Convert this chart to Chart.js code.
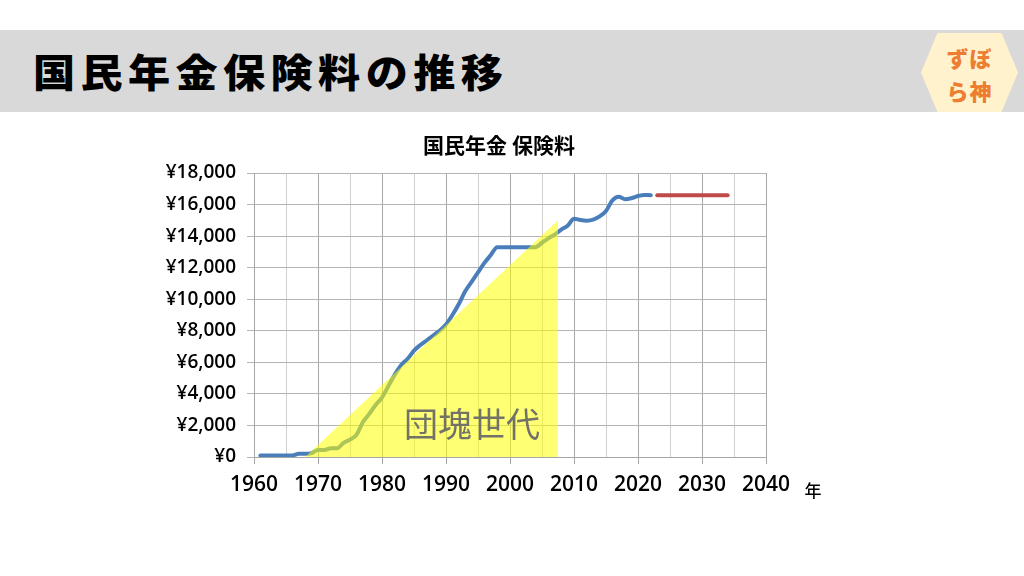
<!DOCTYPE html>
<html lang="ja">
<head>
<meta charset="utf-8">
<script src="https://cdn.jsdelivr.net/npm/chart.js@4.4.1/dist/chart.umd.min.js"></script>
<style>
  html, body { margin: 0; padding: 0; background: #fff; }
  body { width: 1024px; height: 576px; position: relative; overflow: hidden; font-family: 'Noto Sans CJK JP', sans-serif; }
  #band { position: absolute; left: 0; top: 30px; width: 1024px; height: 82px; background: #d9d9d9; z-index: 2; }
  #band h1 { position: absolute; left: 33px; top: 14px; margin: 0; font-size: 39px; font-weight: 900; letter-spacing: 5px;
    line-height: 52px; transform-origin: left center; transform: scaleX(1.08); color: #000; }
  #logo { position: absolute; left: 921px; top: 33px; width: 97px; height: 79px; background: #fff2cc; z-index: 3;
    clip-path: polygon(17% 0, 83% 0, 100% 50%, 83% 100%, 17% 100%, 0 50%); }
  #logo div { position: absolute; left: 0; width: 100%; text-align: center; color: #ed7d31; font-weight: 900; font-size: 22px; letter-spacing: 1px; }
  #wrap { position: absolute; left: 0; top: 0; width: 1024px; height: 576px; z-index: 1; }
</style>
</head>
<body>
<div id="band"><h1>国民年金保険料の推移</h1></div>
<div id="logo"><div style="top:8px">ずぼ</div><div style="top:41px">ら神</div></div>
<div id="wrap"><canvas id="plot" width="1024" height="576"></canvas></div>
<script>
// monthly premium, yen
const years = [1961, 1962, 1963, 1964, 1965, 1966, 1967, 1968, 1969, 1970,
  1971, 1972, 1973, 1974, 1975, 1976, 1977, 1978, 1979, 1980,
  1981, 1982, 1983, 1984, 1985, 1986, 1987, 1988, 1989, 1990,
  1991, 1992, 1993, 1994, 1995, 1996, 1997, 1998, 1999, 2000,
  2001, 2002, 2003, 2004, 2005, 2006, 2007, 2008, 2009, 2010,
  2011, 2012, 2013, 2014, 2015, 2016, 2017, 2018, 2019, 2020,
  2021, 2022];
const premiums = [100, 100, 100, 100, 100, 100, 200, 200, 250, 450,
  450, 550, 550, 900, 1100, 1400, 2200, 2730, 3300, 3770,
  4500, 5220, 5830, 6220, 6740, 7100, 7400, 7700, 8000, 8400,
  9000, 9700, 10500, 11100, 11700, 12300, 12800, 13300, 13300, 13300,
  13300, 13300, 13300, 13300, 13580, 13860, 14100, 14410, 14660, 15100,
  15020, 14980, 15040, 15250, 15590, 16260, 16490, 16340, 16410, 16540,
  16610, 16590];
const futureYears = [2023, 2024, 2025, 2026, 2027, 2028, 2029, 2030, 2031, 2032, 2033, 2034];
const futurePremiums = [16590, 16590, 16590, 16590, 16590, 16590, 16590, 16590, 16590, 16590, 16590, 16590];
const boomerX = [1968, 2007.5];
const boomerY = [0, 15000];
const yTicks = [0, 2000, 4000, 6000, 8000, 10000, 12000, 14000, 16000, 18000];

const FONT = "'Noto Sans CJK JP', sans-serif";
const NUM_FONT = "'Open Sans', 'Noto Sans CJK JP', sans-serif";

function toPoints(xs, ys) {
  return xs.map((x, i) => ({ x: x, y: ys[i] }));
}

const extraText = {
  id: 'extraText',
  afterDatasetsDraw(chart) {
    const ctx = chart.ctx;
    ctx.save();
    ctx.fillStyle = '#727268';
    ctx.font = '34px ' + FONT;
    ctx.textAlign = 'left';
    ctx.textBaseline = 'middle';
    ctx.fillText('団塊世代', 404, 424);
    ctx.restore();
  },
  afterDraw(chart) {
    const ctx = chart.ctx;
    ctx.save();
    ctx.fillStyle = '#000';
    ctx.textBaseline = 'middle';
    ctx.textAlign = 'center';
    ctx.font = 'bold 21px ' + FONT;
    ctx.fillText('国民年金 保険料', 499, 145);
    ctx.font = '500 17px ' + FONT;
    ctx.fillText('年', 813, 491);
    ctx.restore();
  }
};

new Chart(document.getElementById('plot'), {
  type: 'line',
  data: {
    datasets: [
      {
        data: toPoints(boomerX, boomerY),
        borderWidth: 0,
        borderColor: 'rgba(0,0,0,0)',
        backgroundColor: 'rgba(255,255,0,0.55)',
        fill: 'origin',
        pointRadius: 0,
        order: 0
      },
      {
        data: toPoints(years, premiums),
        borderColor: '#4a7ebb',
        borderWidth: 4,
        borderCapStyle: 'round',
        borderJoinStyle: 'round',
        cubicInterpolationMode: 'monotone',
        pointRadius: 0,
        fill: false,
        order: 1
      },
      {
        data: toPoints(futureYears, futurePremiums),
        borderColor: '#be4b48',
        borderWidth: 4,
        borderCapStyle: 'round',
        pointRadius: 0,
        fill: false,
        order: 2
      }
    ]
  },
  options: {
    responsive: false,
    animation: false,
    events: [],
    layout: { padding: { top: 173, right: 258, bottom: 79, left: 0 } },
    plugins: { legend: { display: false }, title: { display: false }, tooltip: { enabled: false } },
    scales: {
      x: {
        type: 'linear',
        min: 1960,
        max: 2040,
        afterFit: (s) => { s.height = 40; },
        border: { color: '#a6a6a6' },
        grid: {
          color: (c) => (c.tick && c.tick.value % 10 === 0) ? '#a6a6a6' : '#d0d0d0',
          tickColor: (c) => (c.tick && c.tick.value % 10 === 0) ? '#a6a6a6' : 'rgba(0,0,0,0)',
          tickLength: 7
        },
        ticks: {
          stepSize: 5,
          autoSkip: false,
          maxRotation: 0,
          padding: 8,
          color: '#000',
          font: { family: NUM_FONT, size: 21, weight: '600' },
          callback: (v) => v % 10 === 0 ? String(v) : ''
        }
      },
      y: {
        min: 0,
        max: 18000,
        afterFit: (s) => { s.width = 254; },
        afterBuildTicks: (s) => { s.ticks = yTicks.map((v) => ({ value: v })); },
        border: { color: '#a6a6a6' },
        grid: { color: '#b4b4b4', tickLength: 7 },
        ticks: {
          padding: 11,
          color: '#000',
          font: { family: NUM_FONT, size: 19, weight: '600' },
          callback: (v) => '¥' + v.toLocaleString('en-US')
        }
      }
    }
  },
  plugins: [extraText]
});
</script>
</body>
</html>
